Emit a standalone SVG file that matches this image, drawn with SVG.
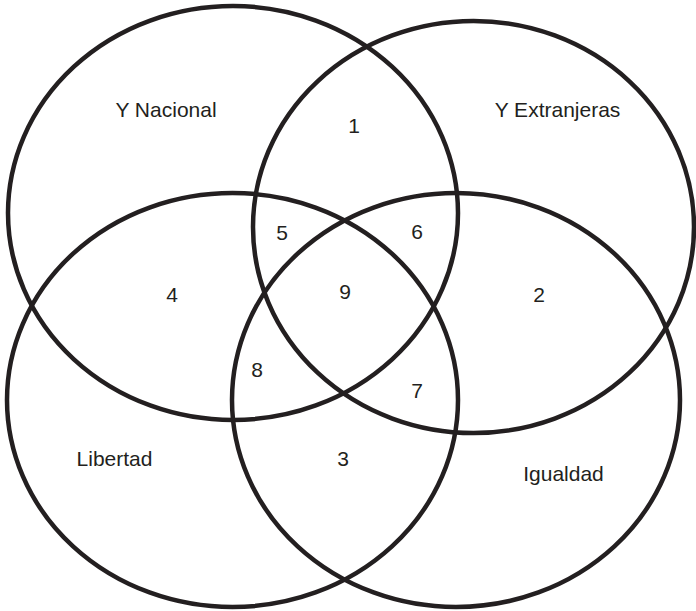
<svg xmlns="http://www.w3.org/2000/svg" width="696" height="611" viewBox="0 0 696 611">
<style>
.set{fill:none;stroke:#231f20;stroke-width:4.5}
.lbl{font-family:"Liberation Sans",Arial,sans-serif;font-size:21px;fill:#231f20;text-anchor:middle}
</style>
<rect width="696" height="611" fill="#ffffff"/>
<g id="set-nacional">
<ellipse class="set" cx="233" cy="213" rx="225" ry="207"/>
<text class="lbl" x="166" y="117">Y Nacional</text>
</g>
<g id="set-extranjeras">
<ellipse class="set" cx="473.5" cy="227" rx="220.5" ry="206"/>
<text class="lbl" x="557.5" y="117">Y Extranjeras</text>
</g>
<g id="set-libertad">
<ellipse class="set" cx="232.5" cy="400" rx="225.5" ry="207"/>
<text class="lbl" x="114.5" y="466">Libertad</text>
</g>
<g id="set-igualdad">
<ellipse class="set" cx="456" cy="400" rx="224" ry="207"/>
<text class="lbl" x="563.5" y="481">Igualdad</text>
</g>
<g id="regions">
<text class="lbl" x="354" y="133">1</text>
<text class="lbl" x="539" y="302">2</text>
<text class="lbl" x="343" y="466">3</text>
<text class="lbl" x="172" y="302">4</text>
<text class="lbl" x="282" y="240">5</text>
<text class="lbl" x="417" y="239">6</text>
<text class="lbl" x="417" y="398">7</text>
<text class="lbl" x="257" y="377">8</text>
<text class="lbl" x="345" y="299">9</text>
</g>
<g id="connectors"></g>
</svg>
